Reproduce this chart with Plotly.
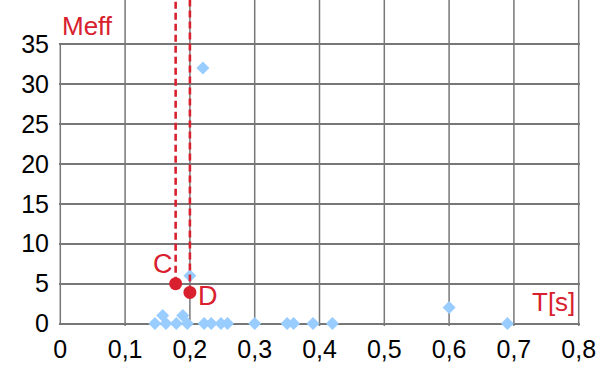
import plotly.graph_objects as go

# Measured periods T [s] and effective moments Meff
t_vals = [0.22, 0.20, 0.158, 0.189, 0.146, 0.163, 0.179, 0.196,
          0.222, 0.233, 0.248, 0.258, 0.30, 0.35, 0.36, 0.39, 0.42,
          0.60, 0.69]
meff_vals = [32, 6, 1, 1, 0, 0, 0, 0,
             0, 0, 0, 0, 0, 0, 0, 0, 0,
             2, 0]

# Design points C and D
pt_names = ["C", "D"]
pt_t = [0.178, 0.20]
pt_meff = [5.0, 3.9]

x_ticks = [0, 0.1, 0.2, 0.3, 0.4, 0.5, 0.6, 0.7, 0.8]
x_labels = ["0", "0,1", "0,2", "0,3", "0,4", "0,5", "0,6", "0,7", "0,8"]
y_ticks = [0, 5, 10, 15, 20, 25, 30, 35]

Y_TOP = 40.5
RED = "#D8202E"
BLUE = "#99CCFF"
GRID = "#777777"
FONT = "Arial"

fig = go.Figure()

# vertical grid lines, running up to the top of the frame
shapes = []
for xv in x_ticks[1:]:
    shapes.append(dict(type="line", xref="x", yref="paper", x0=xv, x1=xv,
                       y0=0, y1=1, line=dict(color=GRID, width=1.5),
                       layer="below"))
# left boundary only up to the highest tick
shapes.append(dict(type="line", xref="x", yref="y", x0=0, x1=0,
                   y0=0, y1=y_ticks[-1], line=dict(color=GRID, width=1.5),
                   layer="below"))
# dashed verticals rising from C and D
for xv, yv in zip(pt_t, pt_meff):
    shapes.append(dict(type="line", xref="x", yref="y", x0=xv, x1=xv,
                       y0=yv, y1=Y_TOP, line=dict(color=RED, width=2.6,
                                                  dash="7px,4px"),
                       layer="above"))

fig.add_trace(go.Scatter(
    x=t_vals, y=meff_vals, mode="markers",
    marker=dict(symbol="diamond", size=10, color=BLUE),
    cliponaxis=False, showlegend=False, hoverinfo="x+y"))

fig.add_trace(go.Scatter(
    x=pt_t, y=pt_meff, mode="markers",
    marker=dict(symbol="circle", size=13, color=RED),
    cliponaxis=False, showlegend=False, hoverinfo="x+y"))

annotations = [
    dict(x=pt_t[0], y=pt_meff[0], text=pt_names[0], showarrow=False,
         xshift=-13, yshift=20, font=dict(family=FONT, size=27, color=RED)),
    dict(x=pt_t[1], y=pt_meff[1], text=pt_names[1], showarrow=False,
         xshift=18, yshift=-4, font=dict(family=FONT, size=27, color=RED)),
    dict(x=0, y=37.2, text="Meff", showarrow=False, xanchor="left",
         xshift=0, font=dict(family=FONT, size=26, color=RED)),
    dict(x=0.8, y=0, text="T[s]", showarrow=False, xanchor="right",
         xshift=-2, yshift=22, font=dict(family=FONT, size=26, color=RED)),
]

fig.update_layout(
    width=601, height=366,
    margin=dict(l=58.7, r=20.7, t=0, b=39.6),
    paper_bgcolor="white", plot_bgcolor="white",
    font=dict(family=FONT, size=25, color="black"),
    shapes=shapes, annotations=annotations,
    xaxis=dict(range=[-0.002, 0.802], tickvals=x_ticks, ticktext=x_labels,
               showgrid=False, zeroline=False, showline=False,
               ticks="outside", ticklen=1, tickcolor="rgba(0,0,0,0)"),
    yaxis=dict(range=[-0.3, Y_TOP], tickvals=y_ticks, showgrid=True,
               gridcolor=GRID, gridwidth=1.5, zeroline=False,
               showline=False, ticks="outside", ticklen=4,
               tickcolor="rgba(0,0,0,0)"),
)

fig.write_html("out.html")
